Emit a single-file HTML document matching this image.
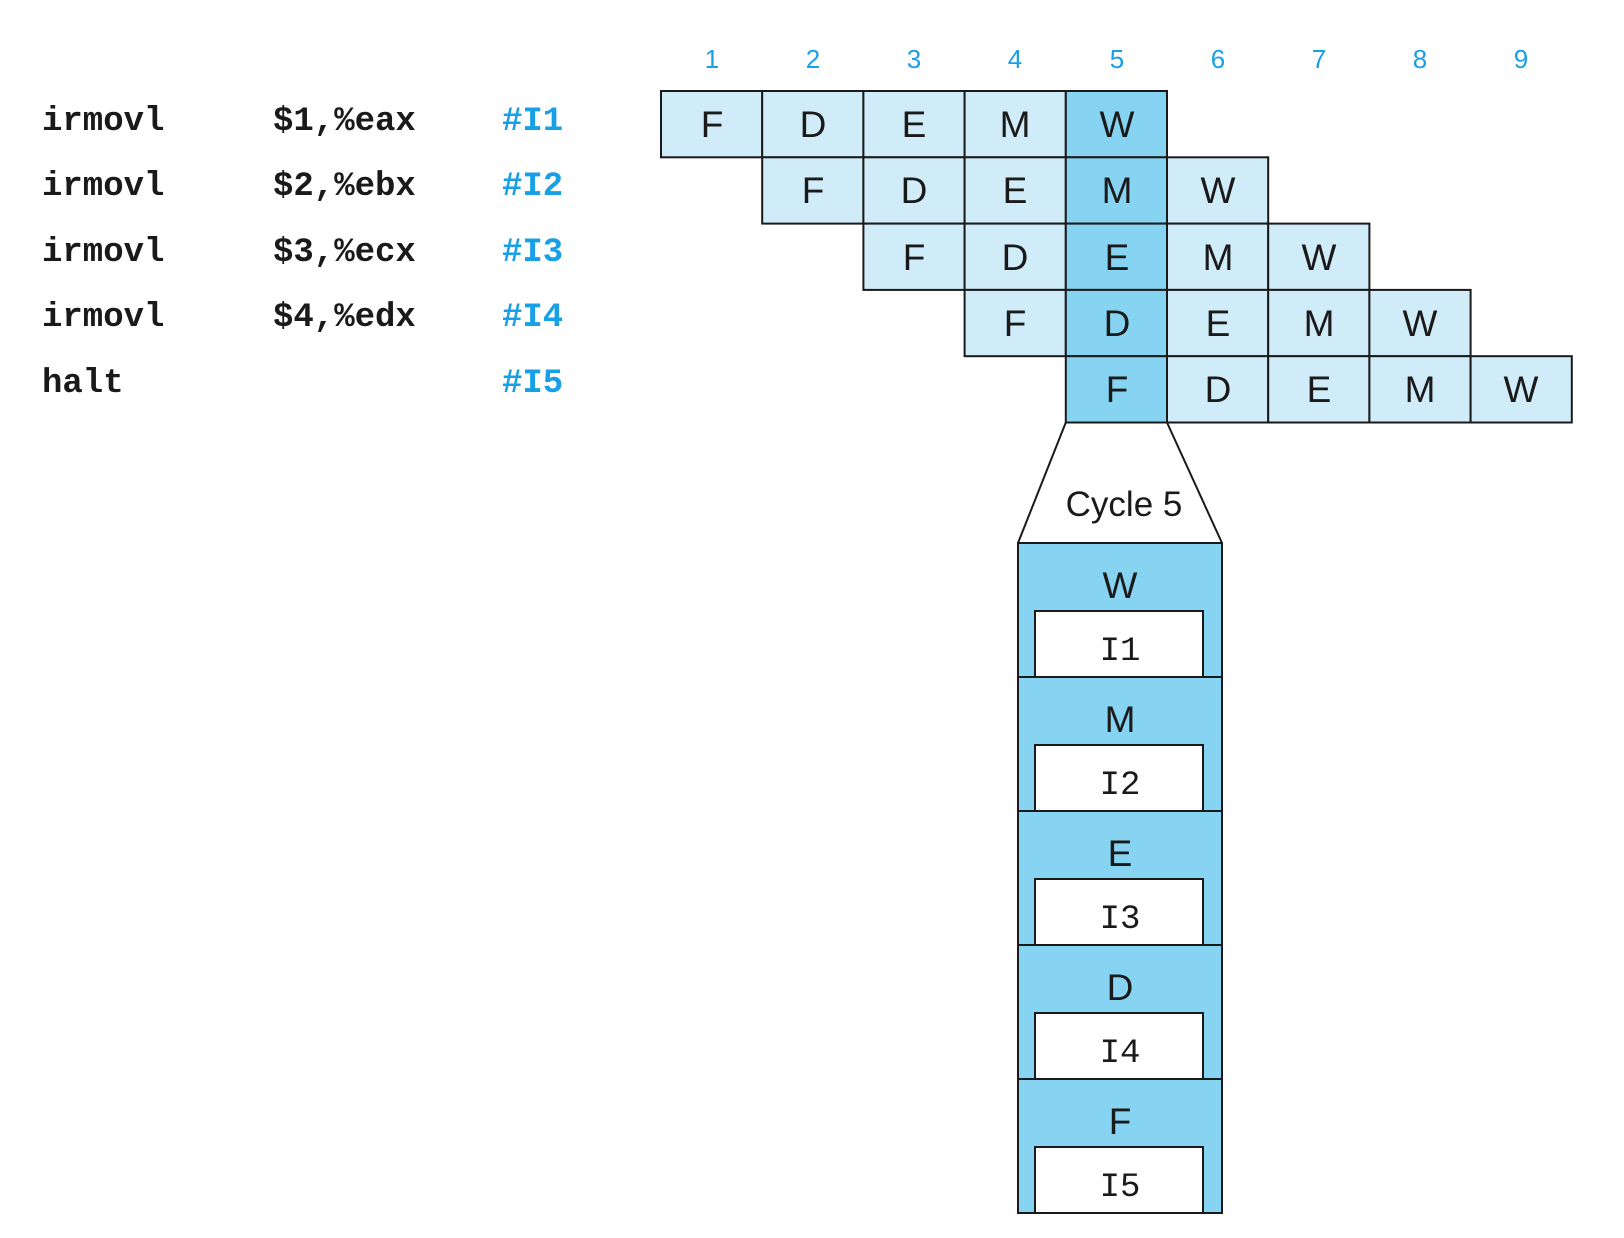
<!DOCTYPE html>
<html><head><meta charset="utf-8"><style>
html,body{margin:0;padding:0;background:#fff;}
svg{display:block;}
.m{font-family:"Liberation Mono",monospace;font-size:34px;fill:#1a1a1a;font-weight:bold;}
.c{fill:#18a0e6;}
.s{font-family:"Liberation Sans",sans-serif;font-size:37px;fill:#1a1a1a;text-anchor:middle;}
.n{font-family:"Liberation Sans",sans-serif;font-size:26px;fill:#18a0e6;text-anchor:middle;}
</style></head><body>
<svg width="1624" height="1238" viewBox="0 0 1624 1238" xmlns="http://www.w3.org/2000/svg">
<g class="m">
<text x="42" y="130">irmovl</text><text x="273" y="130">$1,%eax</text><text x="502" y="130" class="m c">#I1</text>
<text x="42" y="195">irmovl</text><text x="273" y="195">$2,%ebx</text><text x="502" y="195" class="m c">#I2</text>
<text x="42" y="261">irmovl</text><text x="273" y="261">$3,%ecx</text><text x="502" y="261" class="m c">#I3</text>
<text x="42" y="326">irmovl</text><text x="273" y="326">$4,%edx</text><text x="502" y="326" class="m c">#I4</text>
<text x="42" y="392">halt</text><text x="502" y="392" class="m c">#I5</text>
</g>
<g class="n">
<text x="712" y="68">1</text><text x="813" y="68">2</text><text x="914" y="68">3</text><text x="1015" y="68">4</text><text x="1117" y="68">5</text><text x="1218" y="68">6</text><text x="1319" y="68">7</text><text x="1420" y="68">8</text><text x="1521" y="68">9</text>
</g>
<g stroke="#1a1a1a" stroke-width="2">
<rect x="661" y="91" width="101.2" height="66.3" fill="#d0ecf9"/>
<rect x="762.2" y="91" width="101.2" height="66.3" fill="#d0ecf9"/>
<rect x="863.4" y="91" width="101.2" height="66.3" fill="#d0ecf9"/>
<rect x="964.6" y="91" width="101.2" height="66.3" fill="#d0ecf9"/>
<rect x="1065.8" y="91" width="101.2" height="66.3" fill="#86d4f2"/>
<rect x="762.2" y="157.3" width="101.2" height="66.3" fill="#d0ecf9"/>
<rect x="863.4" y="157.3" width="101.2" height="66.3" fill="#d0ecf9"/>
<rect x="964.6" y="157.3" width="101.2" height="66.3" fill="#d0ecf9"/>
<rect x="1065.8" y="157.3" width="101.2" height="66.3" fill="#86d4f2"/>
<rect x="1167" y="157.3" width="101.2" height="66.3" fill="#d0ecf9"/>
<rect x="863.4" y="223.6" width="101.2" height="66.3" fill="#d0ecf9"/>
<rect x="964.6" y="223.6" width="101.2" height="66.3" fill="#d0ecf9"/>
<rect x="1065.8" y="223.6" width="101.2" height="66.3" fill="#86d4f2"/>
<rect x="1167" y="223.6" width="101.2" height="66.3" fill="#d0ecf9"/>
<rect x="1268.2" y="223.6" width="101.2" height="66.3" fill="#d0ecf9"/>
<rect x="964.6" y="289.9" width="101.2" height="66.3" fill="#d0ecf9"/>
<rect x="1065.8" y="289.9" width="101.2" height="66.3" fill="#86d4f2"/>
<rect x="1167" y="289.9" width="101.2" height="66.3" fill="#d0ecf9"/>
<rect x="1268.2" y="289.9" width="101.2" height="66.3" fill="#d0ecf9"/>
<rect x="1369.4" y="289.9" width="101.2" height="66.3" fill="#d0ecf9"/>
<rect x="1065.8" y="356.2" width="101.2" height="66.3" fill="#86d4f2"/>
<rect x="1167" y="356.2" width="101.2" height="66.3" fill="#d0ecf9"/>
<rect x="1268.2" y="356.2" width="101.2" height="66.3" fill="#d0ecf9"/>
<rect x="1369.4" y="356.2" width="101.2" height="66.3" fill="#d0ecf9"/>
<rect x="1470.6" y="356.2" width="101.2" height="66.3" fill="#d0ecf9"/>
<polyline points="1065.8,422.5 1018,543" fill="none"/>
<polyline points="1167,422.5 1222,543" fill="none"/>
<rect x="1018" y="543" width="204" height="134" fill="#86d4f2"/>
<rect x="1018" y="677" width="204" height="134" fill="#86d4f2"/>
<rect x="1018" y="811" width="204" height="134" fill="#86d4f2"/>
<rect x="1018" y="945" width="204" height="134" fill="#86d4f2"/>
<rect x="1018" y="1079" width="204" height="134" fill="#86d4f2"/>
<rect x="1035" y="611" width="168" height="66" fill="#fff"/>
<rect x="1035" y="745" width="168" height="66" fill="#fff"/>
<rect x="1035" y="879" width="168" height="66" fill="#fff"/>
<rect x="1035" y="1013" width="168" height="66" fill="#fff"/>
<rect x="1035" y="1147" width="168" height="66" fill="#fff"/>
</g>
<g class="s">
<text x="712" y="137">F</text><text x="813" y="137">D</text><text x="914" y="137">E</text><text x="1015" y="137">M</text><text x="1117" y="137">W</text>
<text x="813" y="203">F</text><text x="914" y="203">D</text><text x="1015" y="203">E</text><text x="1117" y="203">M</text><text x="1218" y="203">W</text>
<text x="914" y="270">F</text><text x="1015" y="270">D</text><text x="1117" y="270">E</text><text x="1218" y="270">M</text><text x="1319" y="270">W</text>
<text x="1015" y="336">F</text><text x="1117" y="336">D</text><text x="1218" y="336">E</text><text x="1319" y="336">M</text><text x="1420" y="336">W</text>
<text x="1117" y="402">F</text><text x="1218" y="402">D</text><text x="1319" y="402">E</text><text x="1420" y="402">M</text><text x="1521" y="402">W</text>
<text x="1124" y="516" style="font-size:35px">Cycle 5</text>
<text x="1120" y="598">W</text><text x="1120" y="732">M</text><text x="1120" y="866">E</text><text x="1120" y="1000">D</text><text x="1120" y="1134">F</text>
</g>
<g class="m" text-anchor="middle" style="font-weight:normal">
<text x="1120" y="660">I1</text><text x="1120" y="794">I2</text><text x="1120" y="928">I3</text><text x="1120" y="1062">I4</text><text x="1120" y="1196">I5</text>
</g>
</svg>
</body></html>
